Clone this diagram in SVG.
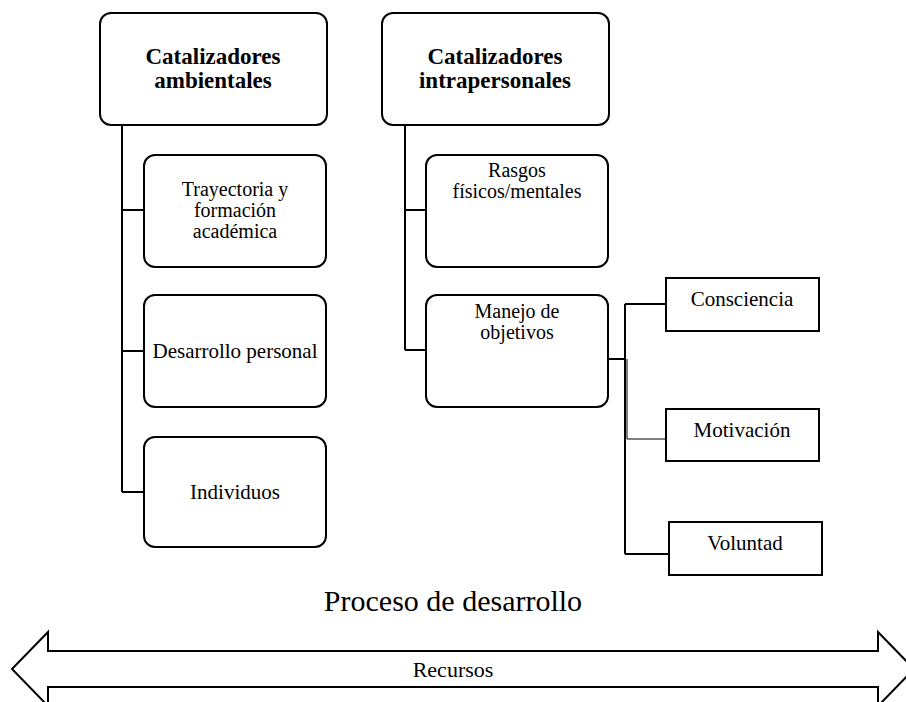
<svg xmlns="http://www.w3.org/2000/svg" width="906" height="702" viewBox="0 0 906 702">
<style>
.box{fill:#fff;stroke:#000;stroke-width:2}
.t{font-family:"Liberation Serif","Times New Roman",Tinos,"DejaVu Serif",serif;font-size:21px;fill:#000;text-anchor:middle}
.m{font-size:20px}
.b{font-weight:bold;font-size:23px}
.c{stroke:#000;stroke-width:2;fill:none}
</style>
<rect width="906" height="702" fill="#fff"/>
<g id="connectors">
<path class="c" d="M122,125 V492 M122,210 H144 M122,351 H144 M122,492 H144"/>
<path class="c" d="M405,125 V350 M405,210 H426 M405,350 H426"/>
<path class="c" d="M608,359 H625 M625,304 V554 M625,304 H666 M625,554 H669"/>
<path d="M627,359 V439 H666" stroke="#000" stroke-width="1" fill="none"/>
</g>
<g id="n1"><rect class="box" x="100" y="13" width="227" height="112" rx="11"/>
<text class="t b" x="213" y="64">Catalizadores</text><text class="t b" x="213" y="88">ambientales</text></g>
<g id="n2"><rect class="box" x="382" y="13" width="227" height="112" rx="11"/>
<text class="t b" x="495" y="64">Catalizadores</text><text class="t b" x="495" y="88">intrapersonales</text></g>
<g id="n3"><rect class="box" x="144" y="155" width="182" height="112" rx="11"/>
<text class="t m" x="235" y="196">Trayectoria y</text><text class="t m" x="235" y="217">formación</text><text class="t m" x="235" y="238">académica</text></g>
<g id="n4"><rect class="box" x="144" y="295" width="182" height="112" rx="11"/>
<text class="t" x="235" y="358">Desarrollo personal</text></g>
<g id="n5"><rect class="box" x="144" y="437" width="182" height="110" rx="11"/>
<text class="t" x="235" y="499">Individuos</text></g>
<g id="n6"><rect class="box" x="426" y="155" width="182" height="112" rx="11"/>
<text class="t m" x="517" y="177">Rasgos</text><text class="t m" x="517" y="198">físicos/mentales</text></g>
<g id="n7"><rect class="box" x="426" y="295" width="182" height="112" rx="11"/>
<text class="t m" x="517" y="318">Manejo de</text><text class="t m" x="517" y="339">objetivos</text></g>
<g id="n8"><rect class="box" x="666" y="278" width="153" height="53"/>
<text class="t" x="742" y="306">Consciencia</text></g>
<g id="n9"><rect class="box" x="666" y="409" width="153" height="52"/>
<text class="t" x="742" y="437">Motivación</text></g>
<g id="n10"><rect class="box" x="669" y="522" width="153" height="53"/>
<text class="t" x="745" y="550">Voluntad</text></g>
<text class="t" x="453" y="611" style="font-size:30px">Proceso de desarrollo</text>
<g id="arrow">
<polygon class="box" points="12,669 48,632 48,651 878,651 878,632 914,669 878,706 878,687 48,687 48,706"/>
<text class="t" x="453" y="677" style="font-size:22px">Recursos</text>
</g>
</svg>
